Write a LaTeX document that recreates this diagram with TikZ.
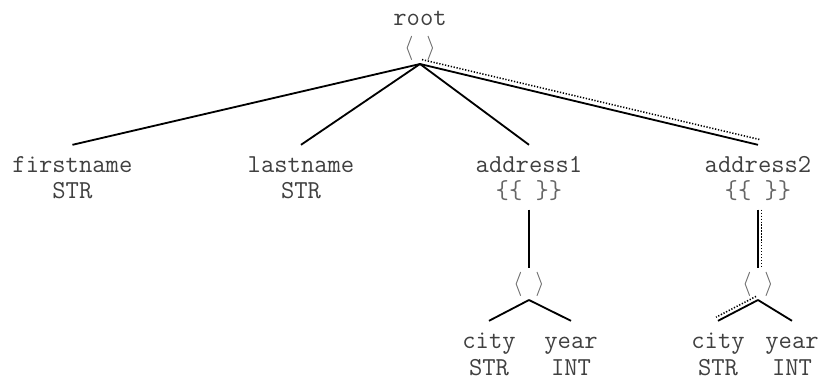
\documentclass[tikz,border=0pt]{standalone}
\usepackage{fontspec}
\usepackage{xcolor}
\usepackage{tikz}
\usepackage{amsmath}
\definecolor{labelgray}{gray}{0.25}
\definecolor{bracketgray}{gray}{0.4}
\newcommand{\recbr}{\textcolor{bracketgray}{$\langle\hspace{9pt}\rangle$}}

\begin{document}
\begin{tikzpicture}[
    lbl/.style={font=\ttfamily\fontsize{18.4}{22}\selectfont, text=labelgray, anchor=base,
                text height=12pt, text depth=4pt, outer sep=4pt},
    typ/.style={lbl, outer sep=1pt},
    brc/.style={typ, text=bracketgray},
    rec/.style={font=\fontsize{16}{19}\selectfont, minimum height=0.8cm, inner sep=0pt, outer sep=0pt},
    edge/.style={line width=1.3pt},
    dotline/.style={line width=1.1pt, dash pattern=on 0.9pt off 1.2pt}
  ]
    \useasboundingbox (0,0) rectangle (20.75,-9.525);
    % root
    \node[lbl] (root) at (10.5,-0.625) {root};
    \node[rec] (rootb) at (10.5,-1.2) {\recbr};
    % first level
    \node[lbl] (firstname) at (1.81,-4.3) {firstname};
    \node[typ] (firstnamet) at (1.81,-4.95) {STR};
    \node[lbl] (lastname) at (7.525,-4.3) {lastname};
    \node[typ] (lastnamet) at (7.525,-4.95) {STR};
    \node[lbl] (address1) at (13.225,-4.3) {address1};
    \node[brc] (address1b) at (13.225,-4.95) {\{\{ \}\}};
    \node[lbl] (address2) at (18.95,-4.3) {address2};
    \node[brc] (address2b) at (18.95,-4.95) {\{\{ \}\}};
    % records inside the bags
    \node[rec] (rec1) at (13.225,-7.1) {\recbr};
    \node[rec] (rec2) at (18.95,-7.1) {\recbr};
    \node[lbl] (city1) at (12.225,-8.7) {city};
    \node[typ] (city1t) at (12.225,-9.375) {STR};
    \node[lbl] (year1) at (14.275,-8.7) {year};
    \node[typ] (year1t) at (14.275,-9.375) {INT};
    \node[lbl] (city2) at (17.95,-8.7) {city};
    \node[typ] (city2t) at (17.95,-9.375) {STR};
    \node[lbl] (year2) at (19.8,-8.7) {year};
    \node[typ] (year2t) at (19.8,-9.375) {INT};
    % edges
    \draw[edge] (rootb.south) -- (firstname.north);
    \draw[edge] (rootb.south) -- (lastname.north);
    \draw[edge] (rootb.south) -- (address1.north);
    \draw[edge] (rootb.south) -- (address2.north);
    \draw[edge] (address1b.south) -- (rec1.north);
    \draw[edge] (rec1.south) -- (city1.north);
    \draw[edge] (rec1.south) -- (year1.north);
    \draw[edge] (address2b.south) -- (rec2.north);
    \draw[edge] (rec2.south) -- (city2.north);
    \draw[edge] (rec2.south) -- (year2.north);
    % path to address2.city
    \draw[dotline] ([xshift=0.05cm,yshift=0.11cm]rootb.south) -- ([xshift=0.05cm,yshift=0.13cm]address2.north);
    \draw[dotline] ([xshift=0.09cm]address2b.south) -- ([xshift=0.09cm]rec2.north);
    \draw[dotline] ([xshift=-0.05cm,yshift=0.09cm]rec2.south) -- ([xshift=-0.05cm,yshift=0.09cm]city2.north);
\end{tikzpicture}
\end{document}
